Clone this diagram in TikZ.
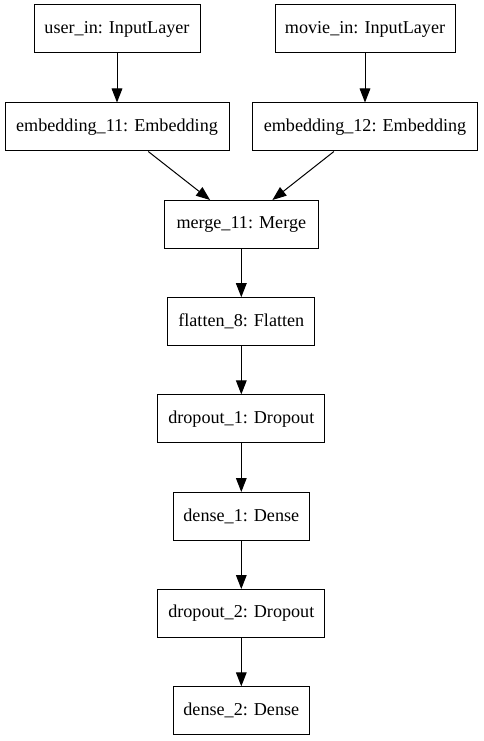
\documentclass[tikz,border=0pt]{standalone}
\usepackage{fontspec}
\setmainfont{Liberation Serif}
\usetikzlibrary{arrows.meta}
\begin{document}
\begin{tikzpicture}[x=0.75pt,y=-0.75pt,
  layer/.style={draw=black,line width=0.75pt,inner sep=0pt,minimum height=36pt,
    font=\fontsize{13.6}{16}\selectfont},
  conn/.style={draw=black,line width=0.75pt,-{Triangle[length=10.5pt,width=8pt]}}]
\useasboundingbox (0,0) rectangle (483,741);
\node[layer,minimum width=124.5pt] (userin) at (117,29) {user\_in: InputLayer};
\node[layer,minimum width=135pt] (moviein) at (365,29) {movie\_in: InputLayer};
\node[layer,minimum width=168pt] (emb11) at (117,127) {embedding\_11: Embedding};
\node[layer,minimum width=168.5pt] (emb12) at (365,127) {embedding\_12: Embedding};
\node[layer,minimum width=115.5pt] (merge) at (241.3,224.5) {merge\_11: Merge};
\node[layer,minimum width=110pt] (flatten) at (241.3,321.7) {flatten\_8: Flatten};
\node[layer,minimum width=125pt] (drop1) at (241.3,418.9) {dropout\_1: Dropout};
\node[layer,minimum width=102pt] (dense1) at (241.3,516.5) {dense\_1: Dense};
\node[layer,minimum width=125pt] (drop2) at (241.3,613.5) {dropout\_2: Dropout};
\node[layer,minimum width=102pt] (dense2) at (241.3,710.8) {dense\_2: Dense};
\draw[conn] (userin) -- (emb11);
\draw[conn] (moviein) -- (emb12);
\draw[conn] (emb11) -- (merge);
\draw[conn] (emb12) -- (merge);
\draw[conn] (merge) -- (flatten);
\draw[conn] (flatten) -- (drop1);
\draw[conn] (drop1) -- (dense1);
\draw[conn] (dense1) -- (drop2);
\draw[conn] (drop2) -- (dense2);
\end{tikzpicture}
\end{document}
